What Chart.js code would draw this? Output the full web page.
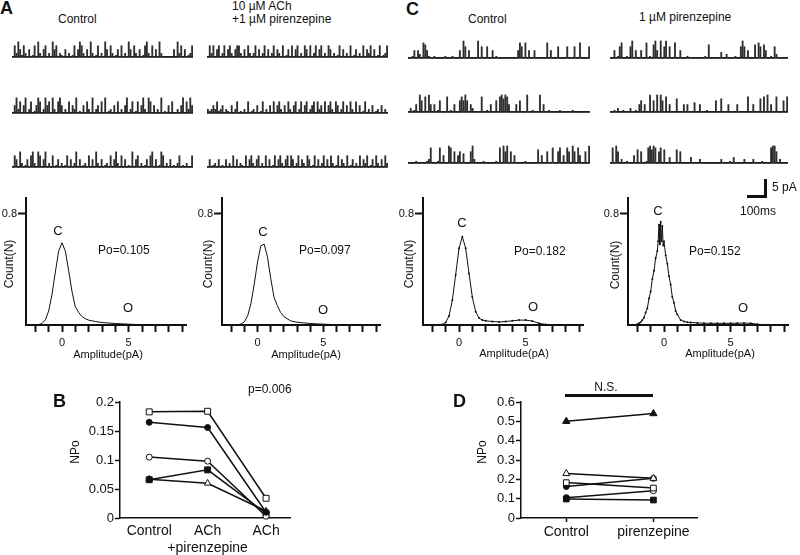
<!DOCTYPE html>
<html>
<head>
<meta charset="utf-8">
<title>Single-channel recordings, pirenzepine</title>
<script src="https://cdn.jsdelivr.net/npm/chart.js@4.4.0/dist/chart.umd.min.js"></script>
<style>
  body { margin: 0; background: #fff; }
  #fig { position: relative; width: 800px; height: 555px; overflow: hidden; font-family: "Liberation Sans", Arial, sans-serif; color: #111; }
  #fig canvas { position: absolute; }
  .t { position: absolute; white-space: nowrap; line-height: 1; font-size: 12px; }
  .l { transform: translateY(-50%); }
  .c { transform: translate(-50%, -50%); }
  .r { transform: translate(-50%, -50%) rotate(-90deg); }
  .panel { font-weight: bold; font-size: 18px; }
  .big { font-size: 13px; }
  .amp { font-size: 11px; }
  .bar { position: absolute; background: #111; }
</style>
</head>
<body>
<div id="fig">
  <!-- raw traces -->
  <canvas id="ctrlA1" width="181" height="26" style="left:12px;top:35px"></canvas>
  <canvas id="ctrlA2" width="181" height="26" style="left:12px;top:91px"></canvas>
  <canvas id="ctrlA3" width="181" height="26" style="left:12px;top:145px"></canvas>
  <canvas id="pirA1" width="181" height="26" style="left:207px;top:35px"></canvas>
  <canvas id="pirA2" width="181" height="26" style="left:207px;top:91px"></canvas>
  <canvas id="pirA3" width="181" height="26" style="left:207px;top:145px"></canvas>
  <canvas id="ctrlC1" width="182" height="26" style="left:408px;top:36px"></canvas>
  <canvas id="ctrlC2" width="182" height="26" style="left:408px;top:90px"></canvas>
  <canvas id="ctrlC3" width="182" height="26" style="left:408px;top:141px"></canvas>
  <canvas id="pirC1" width="178" height="26" style="left:610px;top:36px"></canvas>
  <canvas id="pirC2" width="178" height="26" style="left:610px;top:90px"></canvas>
  <canvas id="pirC3" width="178" height="26" style="left:610px;top:141px"></canvas>

  <!-- amplitude histograms -->
  <canvas id="histA1" width="196" height="165" style="left:-4px;top:190px"></canvas>
  <canvas id="histA2" width="194" height="165" style="left:192px;top:190px"></canvas>
  <canvas id="histC1" width="196" height="165" style="left:393px;top:190px"></canvas>
  <canvas id="histC2" width="196" height="165" style="left:598px;top:190px"></canvas>

  <!-- NPo plots -->
  <canvas id="npoB" width="310" height="175" style="left:0px;top:380px"></canvas>
  <canvas id="npoD" width="310" height="175" style="left:400px;top:380px"></canvas>

  <div class="t l panel" style="left:0px;top:8px">A</div>
  <div class="t l panel" style="left:406px;top:9px">C</div>
  <div class="t l panel" style="left:53px;top:401px">B</div>
  <div class="t l panel" style="left:453px;top:401px">D</div>

  <div class="t l" style="left:58px;top:19px">Control</div>
  <div class="t l" style="left:232px;top:6px">10 µM ACh</div>
  <div class="t l" style="left:232px;top:19px">+1 µM pirenzepine</div>
  <div class="t l" style="left:468px;top:19px">Control</div>
  <div class="t l" style="left:639px;top:17px">1 µM pirenzepine</div>

  <div class="t c big" style="left:58px;top:230px">C</div>
  <div class="t l" style="left:98px;top:250px">Po=0.105</div>
  <div class="t c big" style="left:128px;top:307px">O</div>
  <div class="t c big" style="left:263px;top:231px">C</div>
  <div class="t l" style="left:299px;top:250px">Po=0.097</div>
  <div class="t c big" style="left:323px;top:309px">O</div>
  <div class="t c big" style="left:462px;top:222px">C</div>
  <div class="t l" style="left:514px;top:251px">Po=0.182</div>
  <div class="t c big" style="left:533px;top:306px">O</div>
  <div class="t c big" style="left:658px;top:210px">C</div>
  <div class="t l" style="left:689px;top:251px">Po=0.152</div>
  <div class="t c big" style="left:743px;top:307px">O</div>

  <div class="t r" style="left:9px;top:264px">Count(N)</div>
  <div class="t r" style="left:208px;top:264px">Count(N)</div>
  <div class="t r" style="left:409px;top:264px">Count(N)</div>
  <div class="t r" style="left:615px;top:265px">Count(N)</div>
  <div class="t c amp" style="left:108px;top:354px">Amplitude(pA)</div>
  <div class="t c amp" style="left:306px;top:354px">Amplitude(pA)</div>
  <div class="t c amp" style="left:514px;top:353px">Amplitude(pA)</div>
  <div class="t c amp" style="left:720px;top:353px">Amplitude(pA)</div>

  <!-- scale bar -->
  <div class="bar" style="left:764px;top:179px;width:3px;height:19px"></div>
  <div class="bar" style="left:747px;top:195px;width:20px;height:3px"></div>
  <div class="t l" style="left:772px;top:187px">5 pA</div>
  <div class="t c" style="left:758px;top:211px">100ms</div>

  <div class="t l" style="left:248px;top:389px">p=0.006</div>
  <div class="t r" style="left:75px;top:452px">NPo</div>
  <div class="bar" style="left:565px;top:394px;width:88px;height:2.5px"></div>
  <div class="t c" style="left:606px;top:387px">N.S.</div>
  <div class="t r" style="left:482px;top:452px">NPo</div>
</div>

<script>
// current traces, pA above the closed level
const ctrlA1 = [0,3,1,4,2,0.5,3,1,0,2,0,0.5,3,0,4,1,0,2,3,0,1,0,4,2,3,
  0,1,0.5,0,2,0,1,0,0.5,3,0,2,4,3,1,0,2,0,4,1,0,0.5,3,0,1,
  0,4,2,0,3,1,0,0.5,2,0,3,0,1,0,4,2,0,3,1,0,2,0,0.5,3,4,
  1,0,3,0,2,0,4,1,0,0,0,0,0,0,2,0,4,1,3,0,2,0,0.5,1,3];
const ctrlA2 = [0,2,4,1,3,0,2,4,0,1,3,0,0.5,2,4,3,0,1,4,2,3,0,4,1,0,
  3,4,2,0,1,0,3,0,2,1,4,0,0.5,0,2,0,3,1,0,4,0,1,2,0,3,
  0,4,0,0.5,1,0,2,0,3,0,1,0,2,4,0,1,3,0,0.5,3,0,2,4,1,0,
  4,3,0,2,0,1,0,4,0,0.5,0,2,0,3,0,0,1,0,2,4,0,3,1,4,2];
const ctrlA3 = [0,3,2,0,4,1,0,0.5,2,0,3,4,1,0,4,3,0,2,4,0,1,0,3,0,0.5,
  2,0,1,0,0.5,3,0,2,0,1,4,0,2,0,0.5,1,0,3,0,2,0,4,1,0,2,
  0,0.5,1,0,3,0,2,4,1,0,3,0,2,0,0.5,0,4,0,2,3,0,1,0,0.5,2,
  0,3,4,0,2,0,0.5,4,3,0,1,0,2,0,0.5,0,1,3,0,0.5,0,1,0,0,3];
const pirA1 = [0,3,1,3,0,2,3,0,1,3,0,2,3,1,0,2,3,3,1,0,2,0,3,1,0,
  1,3,0,2,0,1,3,0,2,0,1,3,0,2,1,0,3,0,0.5,2,0,3,0,2,3,
  0,1,0,3,2,0,3,0,1,3,0,2,3,0,1,0,3,2,0,1,0,0.5,3,0,2,
  0,1,0,3,0,0.5,2,0,1,0,3,0,2,1,3,0,2,0,0.5,3,0,0.5,1,3];
const pirA2 = [1,0.5,1,2,1,3,0.5,1,2,0,1,0.5,0,2,0,1,3,0,0.5,0,1,0,3,0,0.5,
  1,0,2,0,0.5,3,0,1,0,2,0,3,0,2,3,1,0,2,0,3,1,0,2,3,0,
  1,3,0,2,3,0,1,2,3,0,3,1,2,0,3,0,2,3,1,0,3,2,0,1,3,
  0,2,0,3,1,0,3,0,2,0,0.5,3,0,1,0,2,0,0.5,1,0,2,0,1,0];
const pirA3 = [0,2,0,0.5,1,0,2,0,0.5,0,2,0,1,0,3,0,2,0,1,0.5,0,3,0,2,3,
  1,0,2,3,0,1,0,3,0,2,0,0.5,3,0,2,3,1,0,2,3,0,3,2,0,1,
  3,0,2,1,0,3,2,0,0.5,3,0,2,0,1,3,0,2,0,3,1,0,0.5,3,0,2,
  1,0,3,0,0.5,2,0,1,0,3,0,2,1,3,0,0.5,2,0,3,1,0,2,0,3,1];
const ctrlC1 = [0,0,0.5,2,0,2,1,0,4,3.5,2,0.5,0,0,0.5,0,0,0,0,0,0.5,0,0,0,0.5,
  0,0,0,2,0,4.5,3,0,2,0,0,0,0,4.5,0,3,0,0,3,0,0,2,0,0.5,0,
  0,0,0,0,0,0,0,0,0,0,2,4,3,0,4,0,2,0,0,2,0,0,0,0,0,
  0,4,0,2,0,0,0,3,0,0,0,0,3,0,0,0,3,0,0,4,0,0,0,0,3];
const ctrlC2 = [0,1,0,0.5,2,0,4.5,3,0,4,0,4.5,2,0,2,0,0.5,3,0,0,0,4,0,0.5,0,
  2,0,0,3,4,3,4.5,3,0,2,1,0,0,0,0,4,0,0,0.5,0,2,0,0,3,0,
  4,4.5,3.5,4.5,4,2,0,0,0,2,0,3,0,0,0,4.5,0,0,0.5,0,0,0,4.5,0,2,
  0,0,0.5,0,0,0,0,0,0.5,0,0,0,0,0,0,0.5,0,0,0,0,0,0,0,0,0];
const ctrlC3 = [0,0,0,0,0.5,0,0,0,0,0,0.5,1,4,0,0,0,0.5,4,0,2,0,0,4.5,4,0,
  3,0,2,3,0,2.5,0,0,0,3,4.5,1,0,0,0,0,0.5,0,0,0,0,0,0,0.5,0,
  4,0,4.5,3,4.5,0,3,0,2,0,0,0,0,0,0.5,0,0,0,0,0,0,3.5,0,2,0,
  0,3,0,0,4,0,0,3,4,0,2,0,4,3,0,4.5,3,0,4,2,0,0,3,0,4.5];
const pirC1 = [0,0,2,0,0.5,3,4,0,0,0.5,0,3,4.5,0,2,0,0,2,0,0,4,0,0.5,0,3.5,
  4.5,2,0,4.5,0,3,4.5,0,3,0,0,4,0,0,2,0,0,0,0.5,0,0,0,0,0,0,
  0,0,0,0.5,0,3.5,0,0,0,0,0,0,1.5,0,0,1,0,0,0,0,0.5,0,0,3,4.5,
  3,0,2,0,0,0,3.5,0,4,3,0,3.5,2,0,0,0.5,0,3,1,0,0,0,0,0,0];
const pirC2 = [0,0,0.5,0,1,0,0,0.5,0,0,0,1,0,0,0.5,0,2,3,0,2,0,0,4.5,0,3,
  0,4.5,0,4.5,3,0,4,0,2,0,0,0,3.5,0,0,0,2,0,2,0,0,0,2.5,0,0,
  2,0,0,0,0.5,0,0,0,0,3,0,0,3.5,0,0,0,2,0,0,0,0,2,0,0,0,
  0,0,4,0,0,2,0,0,0,3.5,0,4,0,4.5,0,2,0,0,4,0,0,0,3,0,4];
const pirC3 = [0,4,0,4.5,3,0,1,0,0,0.5,0,0,0,2,0,3.5,0,3,0,0,0.5,4,4.5,3.5,4.5,
  4,0,3,4,0,3.5,0,0,1.5,0,0,0,3.5,0,3,0,0,0,0,0,1.5,0,0,0,0,
  1,0,0,0,0,0,0,0,0,0,0,0,1,0,0,0,0,0.5,0,1.5,0,0,0,0,0,
  1,0,0,0,0,1,0,0,0,0,0.5,0,0,0,0,4,4.5,4.5,3,0,1,0,0,0,0];

// amplitude histograms
const ampTicks = [-2, -1, 0, 1, 2, 3, 4, 5, 6, 7, 8, 9];
const ampX = [-2,-1.75,-1.5,-1.25,-1,-0.75,-0.5,-0.25,0,0.25,0.5,0.75,1,1.25,1.5,1.75,2,
  2.5,3,3.5,4,4.5,5,5.5,6,6.5,7,7.5,8];
const histActrl = [0,0.003,0.011,0.037,0.1,0.22,0.38,0.53,0.59,0.53,0.39,0.24,0.13,0.09,0.06,0.045,0.035,
  0.025,0.018,0.014,0.011,0.008,0.006,0.004,0.002,0.001,0,0,0];
const histApir = [0,0,0.002,0.007,0.023,0.066,0.155,0.294,0.453,0.568,0.58,0.49,0.335,0.2,0.14,0.09,0.06,
  0.03,0.02,0.015,0.011,0.008,0.006,0.004,0.002,0.001,0,0,0];
const histCctrl = [0,0,0.001,0.004,0.018,0.065,0.177,0.36,0.55,0.634,0.55,0.37,0.2,0.095,0.05,0.035,0.03,
  0.025,0.022,0.025,0.03,0.035,0.035,0.028,0.012,0.004,0,0,0];
const pirHistX = [-2,-1.875,-1.75,-1.625,-1.5,-1.375,-1.25,-1.125,-1,-0.875,
  -0.75,-0.625,-0.5,-0.4375,-0.375,-0.3125,-0.25,-0.1875,-0.125,-0.0625,
  0,0.125,0.25,0.375,0.5,0.625,0.75,0.875,1,1.25,
  1.5,1.75,2,2.5,3,3.5,4,4.5,5,5.5,6,6.5,7,7.5,8];
const histCpir = [0.006,0.012,0.019,0.036,0.052,0.09,0.12,0.19,0.24,0.33,
  0.39,0.48,0.53,0.6,0.72,0.58,0.74,0.6,0.71,0.57,
  0.6,0.5,0.44,0.35,0.29,0.2,0.16,0.1,0.075,0.035,
  0.025,0.02,0.018,0.015,0.013,0.012,0.012,0.012,0.012,0.013,0.014,0.012,0.006,0.002,0];

// B: NPo, ACh experiments
const bCats = ['Control', ['ACh', '+pirenzepine'], 'ACh'];
const bOpenSquare = [0.183, 0.184, 0.034];
const bFilledCircle = [0.165, 0.156, 0.01];
const bOpenCircle = [0.105, 0.098, 0.003];
const bFilledSquare = [0.066, 0.083, 0.008];
const bOpenTriangle = [0.067, 0.06, 0.012];

// D: NPo, pirenzepine alone
const dCats = ['Control', 'pirenzepine'];
const dFilledTriangle = [0.5, 0.54];
const dOpenTriangle = [0.23, 0.205];
const dOpenSquare = [0.183, 0.155];
const dCircleA = [0.163, 0.205];
const dCircleB = [0.105, 0.141];
const dFilledSquare = [0.098, 0.093];

Chart.defaults.font.family = '"Liberation Sans", Arial, sans-serif';
Chart.defaults.color = '#111';
Chart.defaults.animation = false;
Chart.defaults.responsive = false;
Chart.defaults.plugins.legend.display = false;
Chart.defaults.plugins.tooltip.enabled = false;

// each sample is a 1px bar from the closed level; the closed level itself is the y grid line at 0
function traceChart(id, values) {
  new Chart(document.getElementById(id), {
    type: 'bar',
    data: {
      labels: values.map((v, i) => i),
      datasets: [{ data: values, backgroundColor: '#2e2e2e', borderWidth: 0, barThickness: 1.2 }]
    },
    options: {
      layout: { padding: 0 },
      scales: {
        x: { display: false },
        y: {
          min: -1, max: 5.8,
          afterBuildTicks: (s) => { s.ticks = [{ value: 0 }]; },
          afterFit: (s) => { s.width = 0; },
          border: { display: false },
          grid: { drawTicks: false, color: '#1e1e1e', lineWidth: 1.8 },
          ticks: { display: false }
        }
      }
    }
  });
}

function histChart(id, xs, ys, dotted) {
  new Chart(document.getElementById(id), {
    type: 'line',
    data: {
      datasets: [{
        data: xs.map((x, i) => ({ x: x, y: ys[i] })),
        borderColor: '#111',
        borderWidth: 1,
        pointRadius: dotted ? 1 : 0,
        pointBorderWidth: 0,
        pointBackgroundColor: '#111',
        tension: 0
      }]
    },
    options: {
      layout: { padding: { top: 7, right: 6, left: 0, bottom: 0 } },
      scales: {
        x: {
          type: 'linear', min: -2.7, max: 9.3,
          afterBuildTicks: (s) => { s.ticks = ampTicks.map(v => ({ value: v })); },
          afterFit: (s) => { s.height = 30; },
          border: { color: '#111', width: 2 },
          grid: { drawOnChartArea: false, tickLength: 7, tickWidth: 2, tickColor: '#111' },
          ticks: { autoSkip: false, maxRotation: 0, padding: 4, font: { size: 11 },
                   callback: (v) => (v === 0 || v === 5) ? String(v) : '' }
        },
        y: {
          min: 0, max: 0.914,
          afterBuildTicks: (s) => { s.ticks = [{ value: 0.8 }]; },
          afterFit: (s) => { s.width = 30; },
          border: { color: '#111', width: 2 },
          grid: { drawOnChartArea: false, tickLength: 8, tickWidth: 2, tickColor: '#111' },
          ticks: { padding: 1, font: { size: 11 }, callback: (v) => String(v) }
        }
      }
    }
  });
}

function series(values, style, fill, radius) {
  return {
    data: values.map((v, i) => ({ x: i, y: v })),
    borderColor: '#111', borderWidth: 1.5,
    pointStyle: style, pointRadius: radius,
    pointBackgroundColor: fill, pointBorderColor: '#111', pointBorderWidth: 1,
    tension: 0, clip: false
  };
}

function npoChart(id, cats, datasets, o) {
  new Chart(document.getElementById(id), {
    type: 'line',
    data: { datasets: datasets },
    options: {
      layout: { padding: { top: 22, right: o.right, left: 0, bottom: 0 } },
      scales: {
        x: {
          type: 'linear', min: o.xMin, max: o.xMax,
          afterBuildTicks: (s) => { s.ticks = cats.map((c, i) => ({ value: i })); },
          afterFit: (s) => { s.height = 37; },
          border: { color: '#111', width: 1.5 },
          grid: { drawOnChartArea: false, drawTicks: o.xTicks, tickLength: 4, tickWidth: 1.5, tickColor: '#111' },
          ticks: { autoSkip: false, maxRotation: 0, padding: o.xTicks ? 2 : 5, font: { size: 14 },
                   callback: (v) => cats[v] }
        },
        y: {
          min: 0, max: o.yMax,
          afterFit: (s) => { s.width = o.yWidth; },
          border: { color: '#111', width: 1.5 },
          grid: { drawOnChartArea: false, tickLength: 5, tickWidth: 1.5, tickColor: '#111' },
          ticks: { stepSize: o.yStep, padding: 1, font: { size: 13 },
                   callback: (v) => String(+v.toFixed(2)) }
        }
      }
    }
  });
}

traceChart('ctrlA1', ctrlA1);
traceChart('ctrlA2', ctrlA2);
traceChart('ctrlA3', ctrlA3);
traceChart('pirA1', pirA1);
traceChart('pirA2', pirA2);
traceChart('pirA3', pirA3);
traceChart('ctrlC1', ctrlC1);
traceChart('ctrlC2', ctrlC2);
traceChart('ctrlC3', ctrlC3);
traceChart('pirC1', pirC1);
traceChart('pirC2', pirC2);
traceChart('pirC3', pirC3);

histChart('histA1', ampX, histActrl, false);
histChart('histA2', ampX, histApir, false);
histChart('histC1', ampX, histCctrl, true);
histChart('histC2', pirHistX, histCpir, true);

npoChart('npoB', bCats, [
  series(bOpenSquare, 'rect', '#fff', 4.2),
  series(bFilledCircle, 'circle', '#111', 3),
  series(bOpenCircle, 'circle', '#fff', 3),
  series(bFilledSquare, 'rect', '#111', 4.2),
  series(bOpenTriangle, 'triangle', '#fff', 3.8)
], { xMin: -0.5, xMax: 2.41, yMax: 0.2, yStep: 0.05, yWidth: 120, right: 20, xTicks: false });

npoChart('npoD', dCats, [
  series(dFilledTriangle, 'triangle', '#111', 4.2),
  series(dOpenTriangle, 'triangle', '#fff', 4),
  series(dOpenSquare, 'rect', '#fff', 4),
  series(dCircleA, 'circle', ['#111', '#fff'], 3),
  series(dCircleB, 'circle', ['#111', '#fff'], 3),
  series(dFilledSquare, 'rect', '#111', 4)
], { xMin: -0.52, xMax: 1.5, yMax: 0.6, yStep: 0.1, yWidth: 121, right: 13, xTicks: true });
</script>
</body>
</html>
